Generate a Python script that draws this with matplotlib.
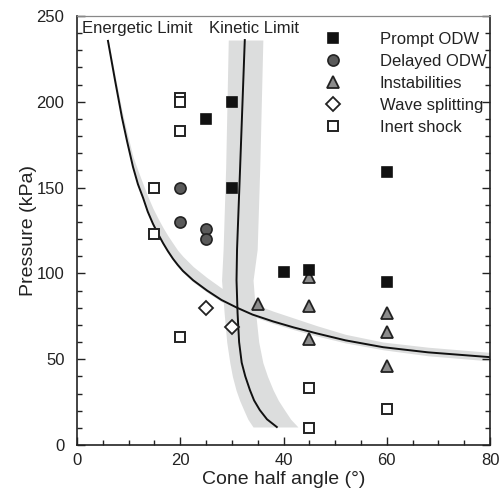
import matplotlib
matplotlib.use('Agg')
import matplotlib.pyplot as plt
from matplotlib.ticker import MultipleLocator

plt.rcParams['font.family'] = ['Liberation Sans', 'DejaVu Sans']

# measured points (cone half angle in deg, pressure in kPa)
prompt_x = [25, 30, 30, 40, 45, 60, 60]
prompt_y = [190, 200, 150, 101, 102, 159, 95]

delayed_x = [20, 20, 25, 25]
delayed_y = [150, 130, 126, 120]

instab_x = [35, 45, 45, 45, 60, 60, 60]
instab_y = [82, 98, 81, 62, 77, 66, 46]

split_x = [25, 30]
split_y = [80, 69]

inert_x = [20, 20, 20, 15, 15, 20, 45, 45, 60]
inert_y = [202, 200, 183, 150, 123, 63, 33, 10, 21]

# energetic limit curve and its grey band
energ_x = [6.0, 7.4, 8.7, 9.7, 10.85, 11.8, 12.8, 13.7, 14.7, 15.7, 16.7, 17.6, 18.6,
           19.5, 20.5, 22.5, 25.2, 28.0, 31.0, 34.0, 38.0, 42.0, 46.5, 52.0, 59.3, 68.0, 80]
energ_y = [235.5, 212, 191, 177, 162, 152, 144, 136, 129, 123, 117.5, 113, 108.5,
           105, 101.5, 96, 90, 84.5, 80, 76, 72, 68.5, 65, 61, 57, 54, 51.2]
energ_lo = [235, 211, 190, 176, 161, 151, 143, 135, 128, 122, 116.5, 112, 107.5,
            104, 100.5, 95, 89, 83.5, 79, 75, 70.8, 67.2, 63.5, 59.5, 55.5, 52, 49]
energ_hi = [237, 215, 195, 182, 168, 160, 152, 145, 138, 132, 126.5, 122, 117.5,
            113.5, 110, 104, 97.5, 91.5, 87, 82.5, 78, 74, 69.5, 64.5, 60, 57, 54]

# kinetic limit curve and band (angle as function of pressure)
kin_p = [236, 162, 114, 96, 77, 60, 48, 40, 32, 26, 20.4, 15, 10.5]
kin_x = [32.5, 31.6, 31.0, 30.9, 31.1, 31.4, 31.9, 32.6, 33.5, 34.3, 35.4, 36.8, 38.7]
kin_left = [29.3, 28.8, 28.3, 28.0, 28.5, 29.0, 29.6, 30.1, 30.8, 31.5, 32.3, 33.1, 34.1]
kin_right = [36.0, 35.4, 34.9, 34.1, 34.6, 35.2, 36.0, 36.9, 38.0, 39.0, 40.2, 41.4, 42.8]

fig = plt.figure(figsize=(4.99, 4.97), dpi=100)
ax = fig.add_axes([0.1543, 0.1046, 0.8277, 0.8632])

band = '#dcdddd'
ax.fill_between(energ_x, energ_lo, energ_hi, color=band, lw=0, zorder=1)
ax.fill_betweenx(kin_p, kin_left, kin_right, color=band, lw=0, zorder=1)
ax.plot(energ_x, energ_y, color='#111111', lw=1.4, zorder=2)
ax.plot(kin_x, kin_p, color='#111111', lw=1.4, zorder=2)

ax.plot(prompt_x, prompt_y, 's', ms=7.5, mfc='#111111', mec='#111111', mew=1.2,
        label='Prompt ODW', zorder=6)
ax.plot(delayed_x, delayed_y, 'o', ms=8, mfc='#5a5a5a', mec='#222222', mew=1.2,
        label='Delayed ODW', zorder=5)
ax.plot(instab_x, instab_y, '^', ms=9, mfc='#8c8c8c', mec='#222222', mew=1.3,
        label='Instabilities', zorder=4)
ax.plot(split_x, split_y, 'D', ms=7.5, mfc='white', mec='#222222', mew=1.3,
        label='Wave splitting', zorder=5)
ax.plot(inert_x, inert_y, 's', ms=7.5, mfc='white', mec='#222222', mew=1.4,
        label='Inert shock', zorder=5)

ax.text(1, 240, 'Energetic Limit', fontsize=12, color='#222222', va='baseline', zorder=7)
ax.text(25.5, 240, 'Kinetic Limit', fontsize=12, color='#222222', va='baseline', zorder=7)

ax.legend(loc='upper left', bbox_to_anchor=(0.58, 0.962), frameon=False, fontsize=12,
          numpoints=1, handlelength=2.0, handletextpad=1.8, labelspacing=0.42,
          borderpad=0, borderaxespad=0, labelcolor='#222222')

ax.set_xlim(0, 80)
ax.set_ylim(0, 250)
ax.xaxis.set_major_locator(MultipleLocator(20))
ax.xaxis.set_minor_locator(MultipleLocator(5))
ax.yaxis.set_major_locator(MultipleLocator(50))
ax.yaxis.set_minor_locator(MultipleLocator(10))
ax.tick_params(which='both', direction='in', right=True, top=False, colors='#222222',
               labelsize=12, width=1.0)
ax.tick_params(which='major', length=6)
ax.tick_params(which='minor', length=3.5)
ax.tick_params(axis='y', pad=9)
ax.tick_params(axis='x', pad=6)

for s in ['left', 'bottom', 'right']:
    ax.spines[s].set_color('#222222')
    ax.spines[s].set_linewidth(1.2)
ax.spines['top'].set_color('#888888')
ax.spines['top'].set_linewidth(0.9)

ax.set_xlabel('Cone half angle (°)', fontsize=14, color='#222222', labelpad=2)
ax.set_ylabel('Pressure (kPa)', fontsize=14, color='#222222', labelpad=0)

plt.savefig('out.png', dpi=100)
